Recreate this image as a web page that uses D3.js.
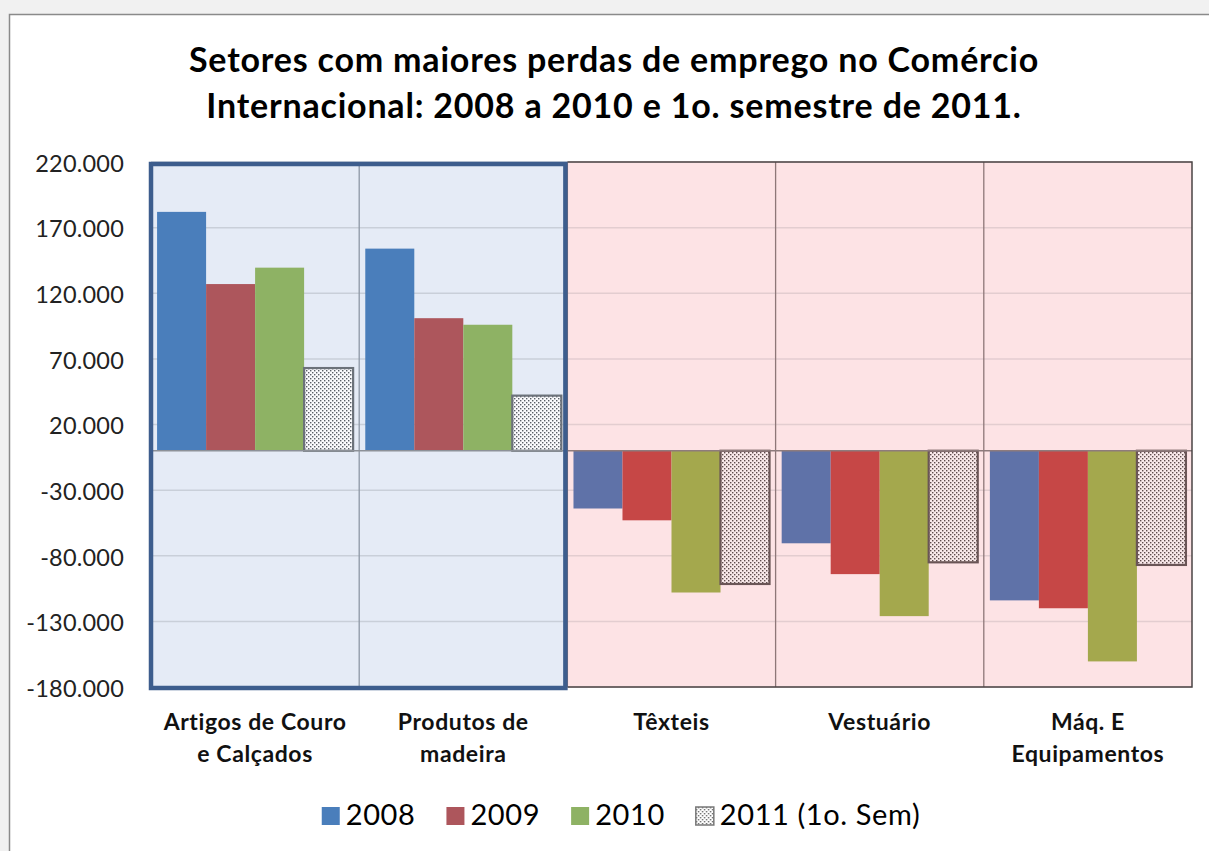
<!DOCTYPE html>
<html>
<head>
<meta charset="utf-8">
<script src="https://cdnjs.cloudflare.com/ajax/libs/d3/7.8.5/d3.min.js"></script>
<style>
  body { margin: 0; background: #f1f1f1; }
  text { font-family: Lato, "Open Sans", sans-serif; }
</style>
</head>
<body>
<div id="chart"></div>
<script>
// data (thousands of jobs)
var categories = ["Artigos de Couro\ne Calçados", "Produtos de\nmadeira", "Têxteis", "Vestuário", "Máq. E\nEquipamentos"];
var series = ["2008", "2009", "2010", "2011 (1o. Sem)"];
var v2008 = [182000, 154000, -44000, -70500, -114000];
var v2009 = [127000, 101000, -53000, -94000, -120000];
var v2010 = [139500, 96000, -108000, -126000, -160500];
var v2011 = [63000, 42000, -101500, -85000, -87000];
var yTicks = d3.range(-180000, 220001, 50000);
var titleLines = ["Setores com maiores perdas de emprego no Comércio",
                  "Internacional: 2008 a 2010 e 1o. semestre de 2011."];

var seriesValues = [v2008, v2009, v2010, v2011];
var colorsGain = ["#4A7EBB", "#AD565C", "#8EB264"];
var colorsLoss = ["#5F72A8", "#C64746", "#A4A84D"];

var W = 1209, H = 851;
var plot = { left: 151, right: 1192, top: 162, bottom: 687 };

var pt = d3.formatLocale({ decimal: ",", thousands: ".", grouping: [3], currency: ["", ""], minus: "-" }).format(",.0f");

var svg = d3.select("#chart")
    .append("svg")
    .attr("width", W)
    .attr("height", H);

var defs = svg.append("defs");
function dots(id, bg, dot) {
    var p = defs.append("pattern")
        .attr("id", id)
        .attr("patternUnits", "userSpaceOnUse")
        .attr("width", 4).attr("height", 4);
    p.append("rect").attr("width", 4).attr("height", 4).attr("fill", bg);
    p.append("rect").attr("x", 0).attr("y", 0).attr("width", 1.4).attr("height", 1.4).attr("fill", dot);
    p.append("rect").attr("x", 2).attr("y", 2).attr("width", 1.4).attr("height", 1.4).attr("fill", dot);
}
dots("dotGain", "#fbfbfd", "#5a5f66");
dots("dotLoss", "#f9e9ea", "#5e4c4c");
dots("dotLegend", "#ffffff", "#666666");

// outer chart frame
svg.append("rect")
    .attr("x", 9.5).attr("y", 14.5)
    .attr("width", W + 20).attr("height", H + 20)
    .attr("fill", "#ffffff")
    .attr("stroke", "#8a8a8a")
    .attr("stroke-width", 1.5);

var x0 = d3.scaleBand()
    .domain(d3.range(categories.length))
    .range([plot.left, plot.right])
    .padding(0);

var x1 = d3.scaleBand()
    .domain(d3.range(series.length))
    .range([0, x0.bandwidth()])
    .paddingInner(0)
    .paddingOuter(0.124);

var y = d3.scaleLinear()
    .domain([-180000, 220000])
    .range([plot.bottom, plot.top]);

function isGain(i) { return v2008[i] > 0; }
var nGain = categories.filter(function (c, i) { return isGain(i); }).length;
var splitX = x0(nGain);

// backgrounds
svg.append("rect")
    .attr("x", plot.left).attr("y", plot.top)
    .attr("width", splitX - plot.left).attr("height", plot.bottom - plot.top)
    .attr("fill", "#E5EBF6");
svg.append("rect")
    .attr("x", splitX).attr("y", plot.top)
    .attr("width", plot.right - splitX).attr("height", plot.bottom - plot.top)
    .attr("fill", "#FDE3E5");

// gridlines
var grid = svg.append("g");
grid.selectAll(".gl")
    .data(yTicks)
    .enter()
    .append("line")
    .attr("x1", plot.left).attr("x2", splitX)
    .attr("y1", function (d) { return y(d) }).attr("y2", function (d) { return y(d) })
    .attr("stroke", "#C9CFD9").attr("stroke-width", 1.5);
grid.selectAll(".gr")
    .data(yTicks)
    .enter()
    .append("line")
    .attr("x1", splitX).attr("x2", plot.right)
    .attr("y1", function (d) { return y(d) }).attr("y2", function (d) { return y(d) })
    .attr("stroke", "#E3CDD0").attr("stroke-width", 1.5);

// category separators
svg.selectAll(".sep")
    .data(d3.range(1, categories.length))
    .enter()
    .append("line")
    .attr("x1", function (d) { return x0(d) }).attr("x2", function (d) { return x0(d) })
    .attr("y1", plot.top).attr("y2", plot.bottom)
    .attr("stroke", function (d) { return d < nGain ? "#8E98A6" : "#8E7778" })
    .attr("stroke-width", 1.3);

// bars
var cells = [];
categories.forEach(function (c, i) {
    seriesValues.forEach(function (vals, s) {
        cells.push({ cat: i, s: s, value: vals[i] });
    });
});

svg.append("g")
    .selectAll("rect")
    .data(cells)
    .enter()
    .append("rect")
    .attr("x", function (d) { return x0(d.cat) + x1(d.s) })
    .attr("width", x1.bandwidth())
    .attr("y", function (d) { return y(Math.max(0, d.value)) })
    .attr("height", function (d) { return Math.abs(y(d.value) - y(0)) })
    .attr("fill", function (d) {
        if (d.s === 3) return isGain(d.cat) ? "url(#dotGain)" : "url(#dotLoss)";
        return isGain(d.cat) ? colorsGain[d.s] : colorsLoss[d.s];
    })
    .attr("stroke", function (d) {
        if (d.s === 3) return isGain(d.cat) ? "#6c727a" : "#6a5556";
        return "none";
    })
    .attr("stroke-width", function (d) { return d.s === 3 ? 2.2 : 0 });

// zero line
svg.append("line")
    .attr("x1", plot.left).attr("x2", splitX)
    .attr("y1", y(0)).attr("y2", y(0))
    .attr("stroke", "#8d9198").attr("stroke-width", 1.5);
svg.append("line")
    .attr("x1", splitX).attr("x2", plot.right)
    .attr("y1", y(0)).attr("y2", y(0))
    .attr("stroke", "#8e7b7c").attr("stroke-width", 1.5);

// pink area border
svg.append("path")
    .attr("d", "M" + splitX + "," + plot.top + "H" + plot.right + "V" + plot.bottom + "H" + splitX)
    .attr("fill", "none")
    .attr("stroke", "#4a4444")
    .attr("stroke-width", 1.5);

// highlight box around gaining sectors
svg.append("rect")
    .attr("x", plot.left).attr("y", plot.top + 2)
    .attr("width", splitX - plot.left - 2).attr("height", plot.bottom - plot.top - 1)
    .attr("fill", "none")
    .attr("stroke", "#3D5D8D")
    .attr("stroke-width", 4.5);

// y labels
svg.append("g")
    .selectAll("text")
    .data(yTicks)
    .enter()
    .append("text")
    .attr("x", 124)
    .attr("y", function (d) { return y(d) })
    .attr("dy", "0.42em")
    .attr("text-anchor", "end")
    .attr("fill", "#222")
    .style("font-size", "23.5px")
    .style("letter-spacing", "0.2px")
    .text(function (d) { return pt(d) });

// category labels
var cl = svg.append("g")
    .selectAll("text")
    .data(categories)
    .enter()
    .append("text")
    .attr("text-anchor", "middle")
    .attr("fill", "#111")
    .style("font-size", "23px")
    .style("letter-spacing", "0.6px")
    .style("font-weight", "bold");
cl.each(function (d, i) {
    var t = d3.select(this);
    d.split("\n").forEach(function (line, k) {
        t.append("tspan")
            .attr("x", x0(i) + x0.bandwidth() / 2)
            .attr("y", 730 + k * 32)
            .text(line);
    });
});

// title
svg.append("g")
    .selectAll("text")
    .data(titleLines)
    .enter()
    .append("text")
    .attr("x", 614)
    .attr("y", function (d, i) { return 72 + i * 46 })
    .attr("text-anchor", "middle")
    .attr("fill", "#000")
    .style("font-size", "34px")
    .style("letter-spacing", "0.8px")
    .style("font-weight", "bold")
    .text(function (d) { return d });

// legend
var legend = svg.append("g");
var lx = 0;
var items = [];
series.forEach(function (name, s) {
    var g = legend.append("g");
    g.append("rect")
        .attr("x", 0).attr("y", -18)
        .attr("width", 18).attr("height", 18)
        .attr("fill", s === 3 ? "url(#dotLegend)" : colorsGain[s])
        .attr("stroke", s === 3 ? "#777" : "none")
        .attr("stroke-width", 1.5);
    var t = g.append("text")
        .attr("x", 24).attr("y", 0)
        .attr("fill", "#000")
        .style("font-size", "29px")
        .style("letter-spacing", "0.6px")
        .text(name);
    var w = 24 + t.node().getComputedTextLength();
    items.push({ g: g, x: lx });
    lx += w + 31;
});
var total = lx - 31;
var startX = 621 - total / 2;
items.forEach(function (it) {
    it.g.attr("transform", "translate(" + (startX + it.x) + ",825)");
});
</script>
</body>
</html>
